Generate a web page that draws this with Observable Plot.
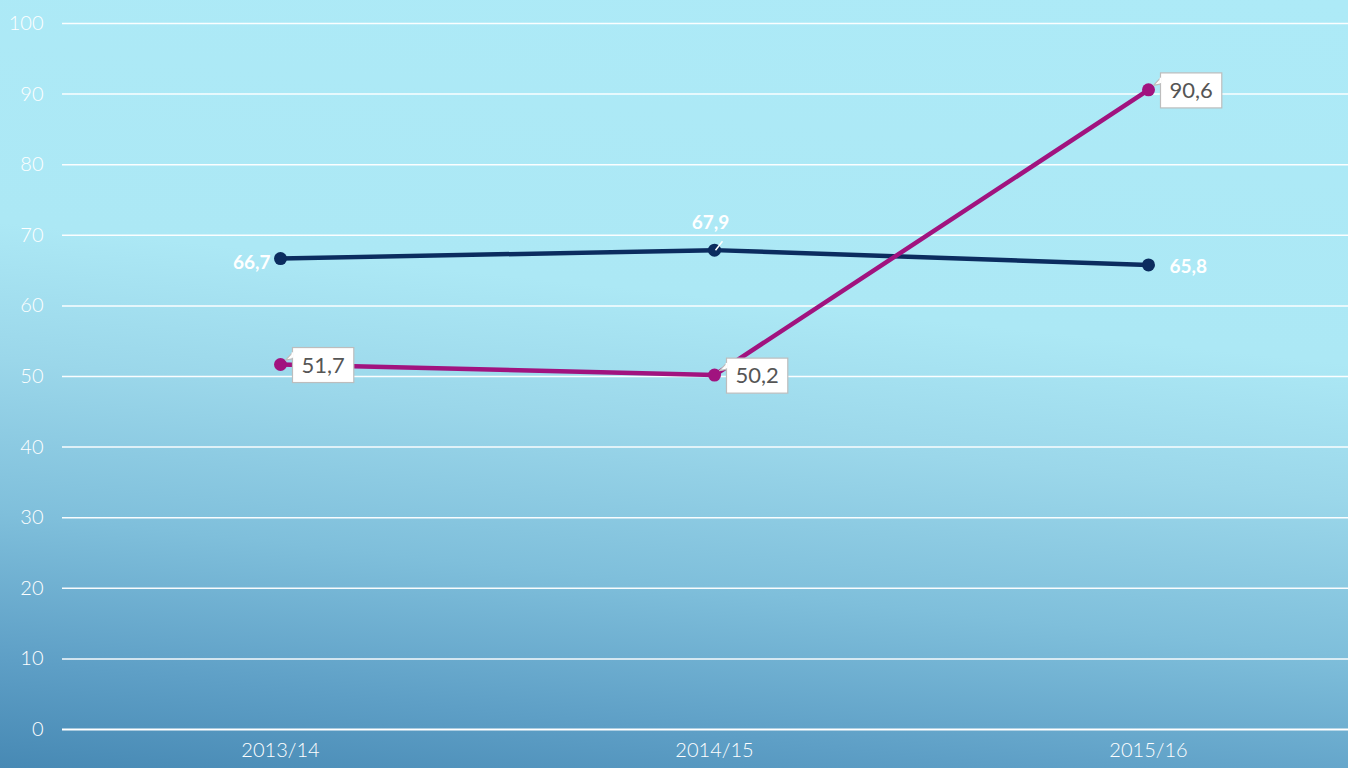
<!DOCTYPE html>
<html><head><meta charset="utf-8">
<script src="https://cdn.jsdelivr.net/npm/d3@7"></script>
<script src="https://cdn.jsdelivr.net/npm/@observablehq/plot@0.6"></script>
<style>
html,body{margin:0;padding:0;width:1348px;height:768px;overflow:hidden;}
body{background:linear-gradient(186deg,#ADEAF7 0%,#ACE8F5 40%,#9BD7EA 55%,#7FBFDB 72%,#5E9FC6 88%,#4789B4 100%);}
#chart svg{display:block;background:transparent;}
</style></head>
<body><div id="chart"></div>
<script>
const categories = ["2013/14", "2014/15", "2015/16"];
const seriesNavy = [66.7, 67.9, 65.8];
const seriesMagenta = [51.7, 50.2, 90.6];
const yTicks = [0, 10, 20, 30, 40, 50, 60, 70, 80, 90, 100];

const navyColor = "#0B2C5F";
const magentaColor = "#A1137F";
const fmt = v => d3.format(".1f")(v).replace(".", ",");

const navy = categories.map((c, i) => ({cat: c, v: seriesNavy[i], i}));
const magenta = categories.map((c, i) => ({cat: c, v: seriesMagenta[i], i}));

const font = "Lato, 'Open Sans', sans-serif";

const plot = Plot.plot({
  width: 1348,
  height: 768,
  marginLeft: 62,
  marginRight: 0,
  marginTop: 23,
  marginBottom: 39,
  style: {background: "transparent", fontFamily: font, overflow: "visible"},
  x: {type: "point", domain: categories, range: [280, 1148], padding: 0, label: null},
  y: {domain: [0, 100], label: null},
  marks: [
    Plot.ruleY(yTicks.filter(d => d > 0), {stroke: "white", strokeWidth: 1.5, strokeOpacity: 0.95}),
    Plot.ruleY([0], {stroke: "white", strokeWidth: 2.2}),
    Plot.axisY({ticks: yTicks, tickSize: 0, tickPadding: 19, fontSize: 20, fill: "white", fontWeight: 300, label: null}),
    Plot.axisX({tickSize: 0, tickPadding: 13, fontSize: 20, fill: "white", fontWeight: 300, label: null}),
    Plot.line(navy, {x: "cat", y: "v", stroke: navyColor, strokeWidth: 4.5}),
    Plot.dot(navy, {x: "cat", y: "v", fill: navyColor, r: 6.5}),
    Plot.line(magenta, {x: "cat", y: "v", stroke: magentaColor, strokeWidth: 4.5}),
    Plot.dot(magenta, {x: "cat", y: "v", fill: magentaColor, r: 6.5}),
    // navy labels
    Plot.text(navy.filter(d => d.i === 0), {x: "cat", y: "v", text: d => fmt(d.v), textAnchor: "end", dx: -10, dy: 4, fill: "white", fontWeight: "bold", fontSize: 19}),
    Plot.text(navy.filter(d => d.i === 1), {x: "cat", y: "v", text: d => fmt(d.v), textAnchor: "middle", dx: -4, dy: -27, fill: "white", fontWeight: "bold", fontSize: 19}),
    Plot.text(navy.filter(d => d.i === 2), {x: "cat", y: "v", text: d => fmt(d.v), textAnchor: "start", dx: 21, dy: 2, fill: "white", fontWeight: "bold", fontSize: 19}),
    // magenta boxed labels
    Plot.text(magenta, {x: "cat", y: "v", text: d => fmt(d.v), textAnchor: "start", dx: 21, dy: 1, fill: "#555", fontSize: 22, className: "boxlabel"})
  ]
});
document.getElementById("chart").appendChild(plot);

const svgns = "http://www.w3.org/2000/svg";

// leader tick for the middle navy label (from dot toward label)
plot.querySelectorAll("g[aria-label='text']").forEach(g => {
  const t = g.querySelector("text");
  if (t && t.textContent === fmt(seriesNavy[1])) {
    const bb = t.getBBox();
    const cx = bb.x + bb.width / 2 + 4, by = bb.y + bb.height;
    const ln = document.createElementNS(svgns, "line");
    ln.setAttribute("x1", cx + 1); ln.setAttribute("y1", by + 17);
    ln.setAttribute("x2", cx + 8); ln.setAttribute("y2", by + 8);
    ln.setAttribute("stroke", "white"); ln.setAttribute("stroke-width", "1.5");
    if (t.getAttribute("transform")) ln.setAttribute("transform", t.getAttribute("transform"));
    g.appendChild(ln);
  }
});

// boxes with callout tails behind magenta labels
plot.querySelectorAll(".boxlabel text").forEach(t => {
  const bb = t.getBBox();
  const padX = 9, padY = 4;
  const x0 = bb.x - padX, y0 = bb.y - padY + 1, w = bb.width + 2 * padX, h = bb.height + 2 * padY;
  const g = document.createElementNS(svgns, "g");
  if (t.getAttribute("transform")) g.setAttribute("transform", t.getAttribute("transform"));
  // the dot lies 21px left of the text start and ~1px above the text's middle
  const px = bb.x - 21, py = bb.y + bb.height / 2 - 2;
  const tail = document.createElementNS(svgns, "path");
  tail.setAttribute("d", `M${x0 + 1},${y0 + 4} L${px + 5},${py - 2} L${x0 + 1},${y0 + 11} Z`);
  tail.setAttribute("fill", "white");
  tail.setAttribute("stroke", "#BDBDBD");
  tail.setAttribute("stroke-width", "1.2");
  tail.setAttribute("stroke-linejoin", "round");
  const rect = document.createElementNS(svgns, "rect");
  rect.setAttribute("x", x0); rect.setAttribute("y", y0);
  rect.setAttribute("width", w); rect.setAttribute("height", h);
  rect.setAttribute("fill", "white");
  rect.setAttribute("stroke", "#BDBDBD");
  rect.setAttribute("stroke-width", "1.2");
  const cover = document.createElementNS(svgns, "path");
  cover.setAttribute("d", `M${x0},${y0 + 4.8} L${x0},${y0 + 10.2}`);
  cover.setAttribute("stroke", "white");
  cover.setAttribute("stroke-width", "1.8");
  g.appendChild(tail); g.appendChild(rect); g.appendChild(cover);
  t.parentNode.insertBefore(g, t);
});
</script>
</body></html>
